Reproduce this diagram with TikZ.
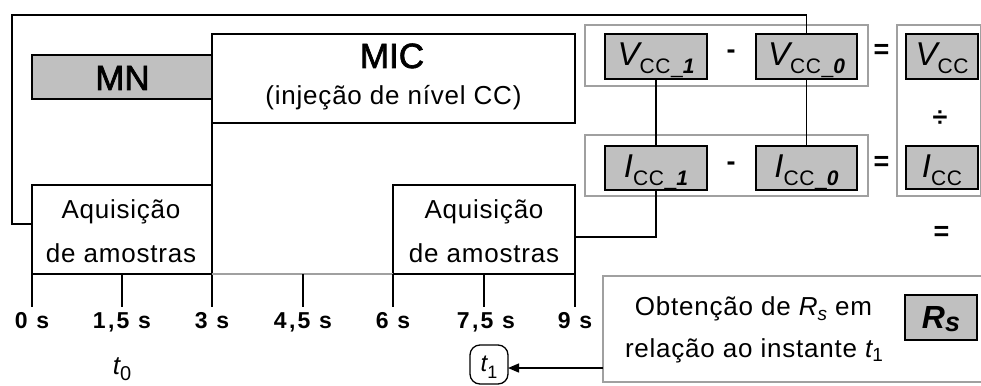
\documentclass[tikz,border=0pt]{standalone}
\usepackage{fontspec}
\setmainfont{Liberation Sans}[LetterSpace=3]
\newfontfamily\tickfont{Liberation Sans}[LetterSpace=10]
\newfontfamily\heavyfont{Liberation Sans}[FakeBold=2]
\usetikzlibrary{arrows.meta}
\definecolor{boxgray}{HTML}{C0C0C0}
\definecolor{framegray}{HTML}{A0A0A0}
\newcommand\setfs[1]{\fontsize{#1}{#1}\selectfont}
\newcommand\qlab[3]{{\setfs{33}\itshape #1}\raisebox{-8pt}{\setfs{21}#2{\bfseries\itshape #3}}}
\begin{document}
\begin{tikzpicture}[x=1pt,y=-1pt,line width=1.3pt,
  every node/.style={inner sep=0pt,outer sep=0pt},
  blk/.style={draw=black,fill=white},
  gbox/.style={draw=black,fill=boxgray},
  frm/.style={draw=framegray,line width=1.6pt},
  txt/.style={anchor=base,font=\setfs{26}},
  big/.style={anchor=base,font=\heavyfont\setfs{35}},
  ticklbl/.style={anchor=base,font=\tickfont\setfs{23}\bfseries},
  opr/.style={anchor=base,font=\setfs{27}\bfseries}]
\useasboundingbox (0,0) rectangle (981,385);

% frames
\node[frm,minimum width=283pt,minimum height=61pt] (vrow) at (726.5,55.5) {};
\node[frm,minimum width=283pt,minimum height=61pt] (irow) at (726.5,165.5) {};
\node[frm,minimum width=84pt,minimum height=171pt] (quot) at (939,110.5) {};
\node[frm,minimum width=387pt,minimum height=106pt] (obt) at (796.5,329) {};

% boxes
\node[gbox,minimum width=180pt,minimum height=44pt] (mn) at (122,77) {};
\node[blk,minimum width=363pt,minimum height=89pt] (mic) at (393.5,78.5) {};
\node[blk,minimum width=180pt,minimum height=89pt] (aq1) at (122,229.5) {};
\node[blk,minimum width=182pt,minimum height=89pt] (aq2) at (484,229.5) {};
\node[gbox,minimum width=102pt,minimum height=45pt] (vcc1) at (656,56.5) {};
\node[gbox,minimum width=101pt,minimum height=45pt] (vcc0) at (806.5,56.5) {};
\node[gbox,minimum width=102pt,minimum height=44pt] (icc1) at (656,168) {};
\node[gbox,minimum width=101pt,minimum height=44pt] (icc0) at (806.5,168) {};
\node[gbox,minimum width=72pt,minimum height=45pt] (vcc) at (942,56.5) {};
\node[gbox,minimum width=72pt,minimum height=43pt] (icc) at (942,167.5) {};
\node[gbox,minimum width=72pt,minimum height=45pt] (rs) at (941,317.5) {};
\node[draw,rounded corners=10pt,minimum width=38pt,minimum height=39pt] (t1box) at (489,364.5) {};

% helper coordinates
\coordinate (cTop) at (0,15);
\coordinate (cLeft) at (12,224);
\coordinate (cMid) at (0,237);
\coordinate (cArr) at (0,368);
\coordinate (cTick) at (0,307);

% connectors
\draw (vcc0.north) -- (vcc0.north |- cTop) -| (cLeft) -- (aq1.west |- cLeft);
\draw (vcc1.south) -- (icc1.north);
\draw (vcc0.south) -- (icc0.north);
\draw (icc1.south) |- (aq2.east |- cMid);
\draw[-{Triangle[length=11pt,width=9pt]}] (obt.west |- cArr) -- (t1box.east |- cArr);
\draw (mic.south west) -- (mic.south west |- cTick);
\draw[framegray] (aq1.south east) -- (aq2.south west);

% ticks
\foreach \x in {32,122,303,393,484,575} \draw (\x,274) -- (\x,307);

% texts
\node[big] (mnT) at (122.5,90) {MN};
\node[big] (micT) at (392,68) {MIC};
\node[txt] (micS) at (393.5,105) {(injeção de nível CC)};
\node[txt] (aq1a) at (121,218) {Aquisição};
\node[txt] (aq1b) at (121,262) {de amostras};
\node[txt] (aq2a) at (484,218) {Aquisição};
\node[txt] (aq2b) at (484,262) {de amostras};

\node[ticklbl] (l0) at (32,328) {0 s};
\node[ticklbl] (l1) at (122,328) {1,5 s};
\node[ticklbl] (l2) at (212,328) {3 s};
\node[ticklbl] (l3) at (303,328) {4,5 s};
\node[ticklbl] (l4) at (393,328) {6 s};
\node[ticklbl] (l5) at (486,328) {7,5 s};
\node[ticklbl] (l6) at (575,328) {9 s};

\node[anchor=base,font=\setfs{26}] (t0) at (122,374) {\itshape t\raisebox{-6pt}{\upshape\setfs{20}0}};
\node[anchor=base,font=\setfs{24}] (t1T) at (489,371) {\itshape t\raisebox{-7pt}{\upshape\setfs{18}1}};

\node[txt] (obt1) at (753.5,315) {Obtenção de {\itshape R\raisebox{-5pt}{\setfs{19}s}} em};
\node[txt] (obt2) at (754,357) {relação ao instante {\itshape t\raisebox{-4pt}{\upshape\setfs{19}1}}};
\node[anchor=base] (rsT) at (941,328) {\setfs{32}\bfseries\itshape R\raisebox{-3pt}{\setfs{27}s}};

\node[anchor=base] (vcc1T) at (656,66) {\qlab{V}{CC\_}{1}};
\node[anchor=base] (vcc0T) at (806.5,66) {\qlab{V}{CC\_}{0}};
\node[anchor=base] (icc1T) at (656,177) {\qlab{I}{CC\_}{1}};
\node[anchor=base] (icc0T) at (806.5,177) {\qlab{I}{CC\_}{0}};
\node[anchor=base] (vccT) at (942,66) {\qlab{V}{CC}{}};
\node[anchor=base] (iccT) at (942,177) {\qlab{I}{CC}{}};

\node[opr] (m1) at (731,58.5) {-};
\node[opr] (m2) at (731,170.5) {-};
\node[opr] (e1) at (881.5,58.7) {=};
\node[opr] (e2) at (881.5,170.7) {=};
\node[opr] (e3) at (941.5,240.7) {=};
\node[anchor=base,font=\setfs{27}\bfseries] (dv) at (940,126) {÷};
\end{tikzpicture}
\end{document}
